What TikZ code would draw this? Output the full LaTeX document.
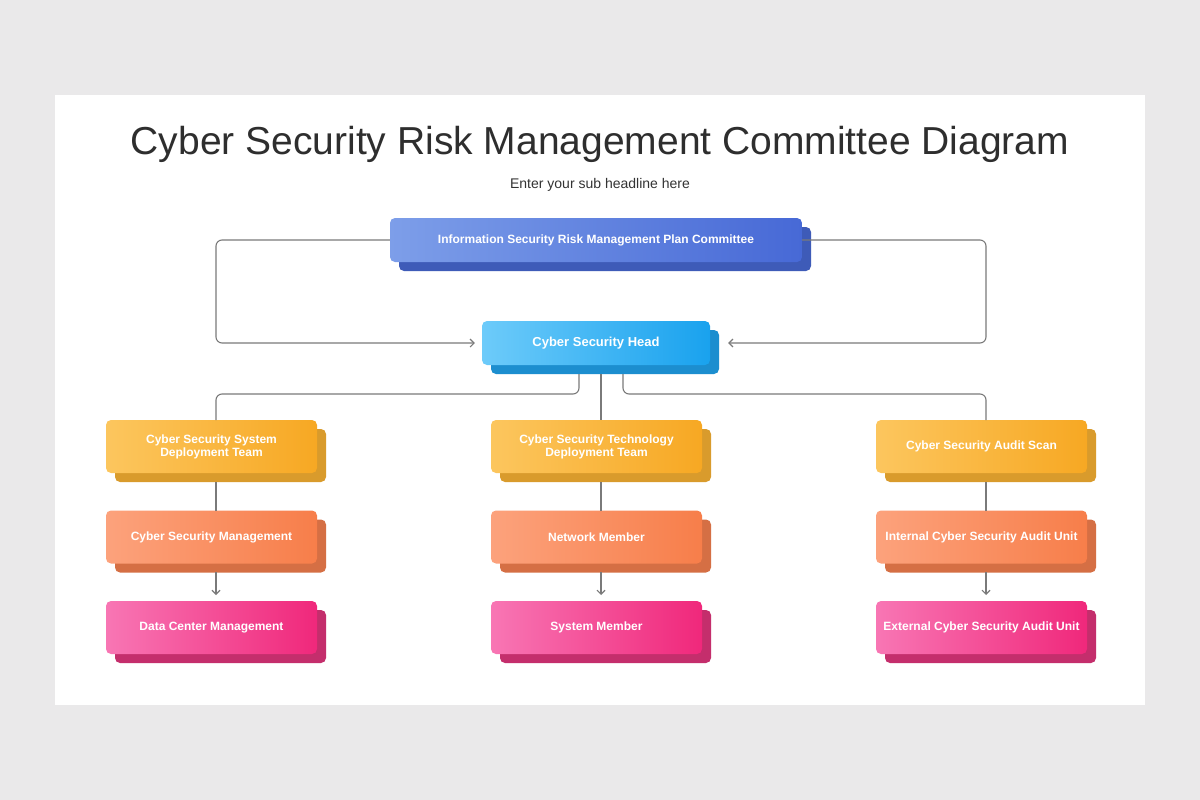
\documentclass[tikz,border=0pt]{standalone}
\usepackage{fontspec}
\setmainfont{Liberation Sans}
\usetikzlibrary{shadows,arrows.meta}
\definecolor{bg}{HTML}{EAE9EA}
\definecolor{ln}{HTML}{7A7A7A}
\tikzset{
 box/.style={text=white, font=\bfseries\fontsize{12}{13}\selectfont, align=center, inner sep=0pt},
 sz/.style 2 args={minimum width=#1pt, minimum height=#2pt},
 conn/.style={draw=ln, line width=1.1pt, rounded corners=6pt},
 arr/.style={conn, -{Straight Barb[length=4pt,width=8pt]}},
}
\definecolor{bA}{HTML}{7D9EE9}\definecolor{bB}{HTML}{4769D6}\definecolor{bS}{HTML}{3E5BB8}
\definecolor{cA}{HTML}{6DCBFA}\definecolor{cB}{HTML}{19A2EE}\definecolor{cS}{HTML}{1C8ECF}
\definecolor{yA}{HTML}{FCC65E}\definecolor{yB}{HTML}{F7A823}\definecolor{yS}{HTML}{D99B2C}
\definecolor{oA}{HTML}{FCA27C}\definecolor{oB}{HTML}{F77E4A}\definecolor{oS}{HTML}{D56F44}
\definecolor{pA}{HTML}{F876B4}\definecolor{pB}{HTML}{F0287B}\definecolor{pS}{HTML}{C42E6C}
\tikzset{
 gbox/.style n args={3}{box, left color=#1, right color=#2, general shadow={shadow xshift=9pt, shadow yshift=-9pt, fill=#3, rounded corners=5pt}, rounded corners=5pt},
 bl/.style={gbox={bA}{bB}{bS}}, cy/.style={gbox={cA}{cB}{cS}},
 ye/.style={gbox={yA}{yB}{yS}}, or/.style={gbox={oA}{oB}{oS}}, pk/.style={gbox={pA}{pB}{pS}},
 col/.style={sz={211}{53}},
}
\begin{document}
\begin{tikzpicture}[x=1pt,y=1pt]
\fill[bg] (0,0) rectangle (1200,-800);
\fill[white] (55,-95) rectangle (1145,-705);
\node[text=black!82, font=\fontsize{39}{42}\selectfont] (title) at (600,-144) {Cyber Security Risk Management Committee Diagram};
\node[text=black!80, font=\fontsize{14}{16}\selectfont] (sub) at (600,-185) {Enter your sub headline here};
\node[bl, sz={412}{44}] (top) at (596,-240) {Information Security Risk Management Plan Committee};
\node[cy, sz={228}{44}, font=\bfseries\fontsize{13}{14}\selectfont] (head) at (596,-343) {Cyber Security Head};
\node[ye,col] (a1) at (211.5,-446.5) {Cyber Security System\\Deployment Team};
\node[or,col] (a2) at (211.5,-537) {Cyber Security Management};
\node[pk,col] (a3) at (211.5,-627.5) {Data Center Management};
\node[ye,col] (b1) at (596.5,-446.5) {Cyber Security Technology\\Deployment Team};
\node[or,col] (b2) at (596.5,-537) {Network Member};
\node[pk,col] (b3) at (596.5,-627.5) {System Member};
\node[ye,col] (c1) at (981.5,-446.5) {Cyber Security Audit Scan};
\node[or,col] (c2) at (981.5,-537) {Internal Cyber Security Audit Unit};
\node[pk,col] (c3) at (981.5,-627.5) {External Cyber Security Audit Unit};
\draw[arr] (top.west) -- (216,-240) -- (216,-343) -- ([xshift=-7pt]head.west);
\draw[arr] (top.east) -- (986,-240) -- (986,-343) -- ([xshift=18pt]head.east);
\draw[conn] (579,-374) -- (579,-394) -- (216,-394) -- (216,-420);
\draw[conn] (601,-374) -- (601,-420);
\draw[conn] (623,-374) -- (623,-394) -- (986,-394) -- (986,-420);
\foreach \x in {216,601,986}{
 \draw[conn] (\x,-482) -- (\x,-511);
 \draw[arr] (\x,-572) -- (\x,-595);}
\end{tikzpicture}
\end{document}
